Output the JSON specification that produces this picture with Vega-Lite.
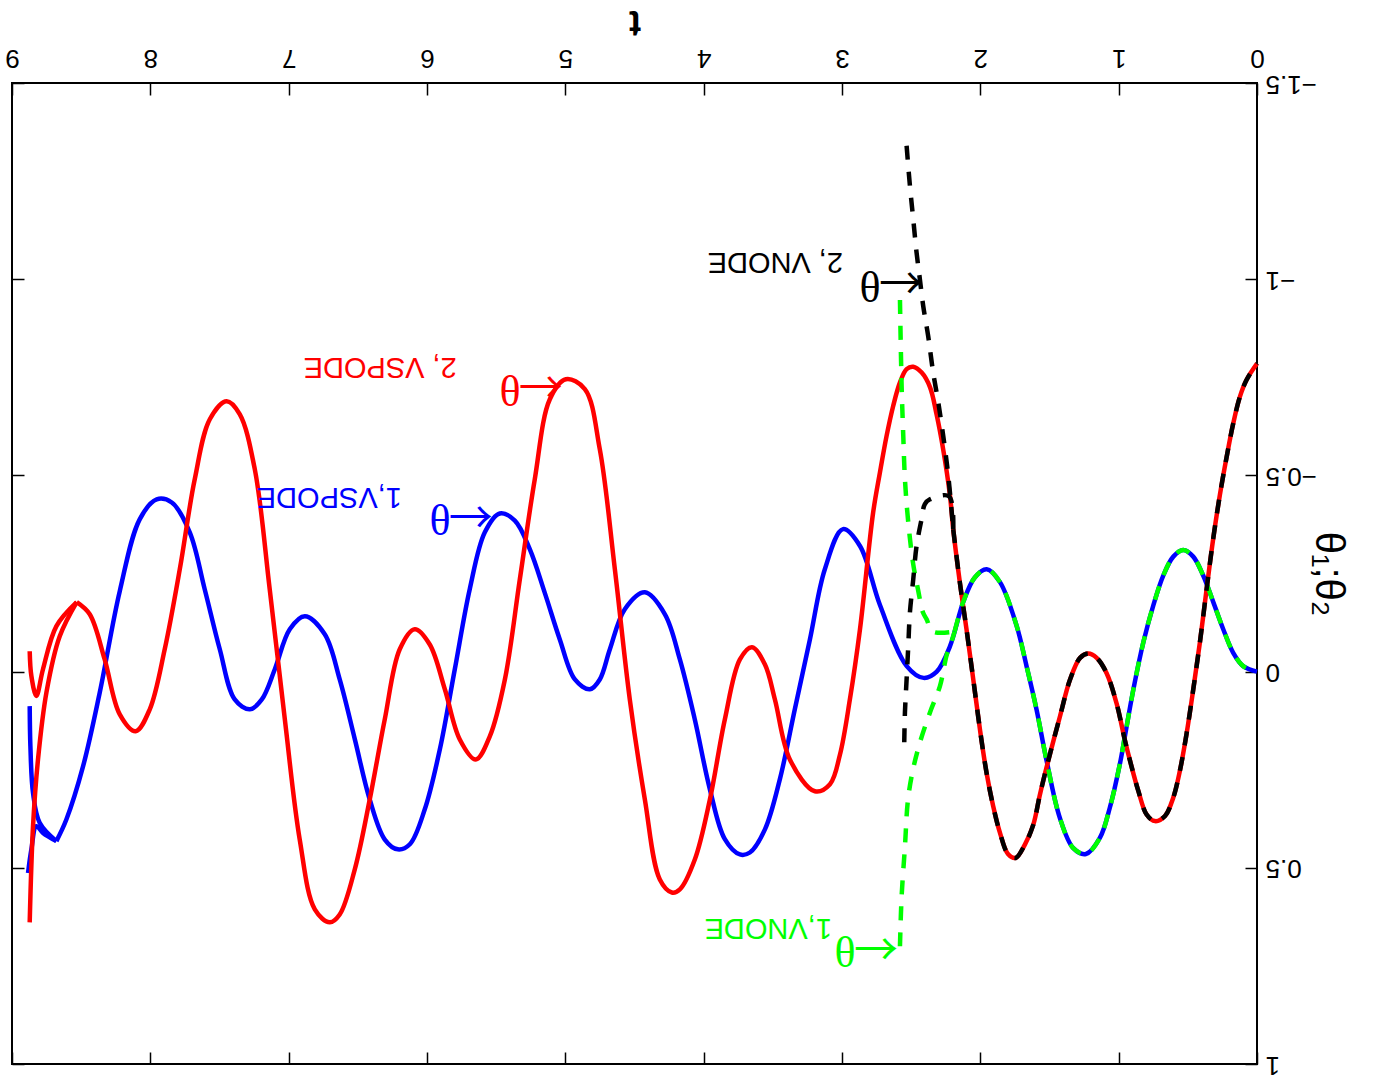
{
"$schema": "https://vega.github.io/schema/vega-lite/v6.json",
"width": 1245, "height": 981,
"autosize": {"type": "none"},
"padding": {"left": 12, "top": 83, "right": 116, "bottom": 14},
"background": "white",
"config": {
  "view": {"stroke": "black", "strokeWidth": 2},
  "font": "Liberation Sans",
  "axis": {"grid": false, "domain": false, "tickColor": "black", "tickWidth": 1.5, "labelColor": "black", "titleColor": "black", "labelFont": "Liberation Sans", "titleFont": "Liberation Sans", "labelFlush": false, "labelOverlap": false}
},
"datasets": {
"L": [
{"s":"b","b":"b0","t":0,"v":0},{"s":"b","b":"b0","t":0.1,"v":-0.014},{"s":"b","b":"b0","t":0.172,"v":-0.048},{"s":"b","b":"b0","t":0.244,"v":-0.108},{"s":"b","b":"b0","t":0.316,"v":-0.177},{"s":"b","b":"b0","t":0.389,"v":-0.245},{"s":"b","b":"b0","t":0.461,"v":-0.293},{"s":"b","b":"b0","t":0.533,"v":-0.31},{"s":"b","b":"b0","t":0.605,"v":-0.293},{"s":"b","b":"b0","t":0.677,"v":-0.245},{"s":"b","b":"b0","t":0.75,"v":-0.168},{"s":"b","b":"b0","t":0.822,"v":-0.074},{"s":"b","b":"b0","t":0.894,"v":0.046},{"s":"b","b":"b0","t":0.955,"v":0.165},{"s":"b","b":"b0","t":0.991,"v":0.235},{"s":"b","b":"b0","t":1.064,"v":0.347},{"s":"b","b":"b0","t":1.136,"v":0.424},{"s":"b","b":"b0","t":1.237,"v":0.465},{"s":"b","b":"b0","t":1.328,"v":0.45},{"s":"b","b":"b0","t":1.425,"v":0.373},{"s":"b","b":"b0","t":1.521,"v":0.227},{"s":"b","b":"b0","t":1.593,"v":0.098},{"s":"b","b":"b0","t":1.666,"v":-0.014},{"s":"b","b":"b0","t":1.738,"v":-0.117},{"s":"b","b":"b0","t":1.858,"v":-0.228},{"s":"b","b":"b0","t":1.954,"v":-0.261},{"s":"b","b":"b0","t":2.04,"v":-0.24},{"s":"b","b":"b0","t":2.123,"v":-0.178},{"s":"b","b":"b0","t":2.219,"v":-0.065},{"s":"b","b":"b0","t":2.315,"v":0.0},{"s":"b","b":"b0","t":2.41,"v":0.016},{"s":"b","b":"b0","t":2.532,"v":-0.014},{"s":"b","b":"b0","t":2.725,"v":-0.169},{"s":"b","b":"b0","t":2.87,"v":-0.32},{"s":"b","b":"b0","t":2.993,"v":-0.363},{"s":"b","b":"b0","t":3.124,"v":-0.261},{"s":"b","b":"b0","t":3.232,"v":-0.082},{"s":"b","b":"b0","t":3.341,"v":0.096},{"s":"b","b":"b0","t":3.449,"v":0.274},{"s":"b","b":"b0","t":3.557,"v":0.402},{"s":"b","b":"b0","t":3.666,"v":0.461},{"s":"b","b":"b0","t":3.738,"v":0.466},{"s":"b","b":"b0","t":3.847,"v":0.427},{"s":"b","b":"b0","t":3.955,"v":0.3},{"s":"b","b":"b0","t":4.064,"v":0.122},{"s":"b","b":"b0","t":4.172,"v":-0.031},{"s":"b","b":"b0","t":4.28,"v":-0.146},{"s":"b","b":"b0","t":4.425,"v":-0.202},{"s":"b","b":"b0","t":4.57,"v":-0.159},{"s":"b","b":"b0","t":4.678,"v":-0.057},{"s":"b","b":"b0","t":4.751,"v":0.02},{"s":"b","b":"b0","t":4.823,"v":0.045},{"s":"b","b":"b0","t":4.931,"v":0.02},{"s":"b","b":"b0","t":5.04,"v":-0.082},{"s":"b","b":"b0","t":5.148,"v":-0.2},{"s":"b","b":"b0","t":5.257,"v":-0.312},{"s":"b","b":"b0","t":5.365,"v":-0.385},{"s":"b","b":"b0","t":5.474,"v":-0.403},{"s":"b","b":"b0","t":5.582,"v":-0.355},{"s":"b","b":"b0","t":5.691,"v":-0.21},{"s":"b","b":"b0","t":5.799,"v":-0.006},{"s":"b","b":"b0","t":5.907,"v":0.198},{"s":"b","b":"b0","t":6.016,"v":0.351},{"s":"b","b":"b0","t":6.124,"v":0.44},{"s":"b","b":"b0","t":6.211,"v":0.453},{"s":"b","b":"b0","t":6.305,"v":0.428},{"s":"b","b":"b0","t":6.414,"v":0.326},{"s":"b","b":"b0","t":6.522,"v":0.172},{"s":"b","b":"b0","t":6.631,"v":0.02},{"s":"b","b":"b0","t":6.739,"v":-0.095},{"s":"b","b":"b0","t":6.883,"v":-0.141},{"s":"b","b":"b0","t":6.992,"v":-0.108},{"s":"b","b":"b0","t":7.1,"v":-0.006},{"s":"b","b":"b0","t":7.194,"v":0.071},{"s":"b","b":"b0","t":7.281,"v":0.096},{"s":"b","b":"b0","t":7.39,"v":0.071},{"s":"b","b":"b0","t":7.498,"v":-0.057},{"s":"b","b":"b0","t":7.607,"v":-0.21},{"s":"b","b":"b0","t":7.715,"v":-0.355},{"s":"b","b":"b0","t":7.845,"v":-0.431},{"s":"b","b":"b0","t":7.954,"v":-0.439},{"s":"b","b":"b0","t":8.077,"v":-0.388},{"s":"b","b":"b0","t":8.221,"v":-0.205},{"s":"b","b":"b0","t":8.366,"v":0.054},{"s":"b","b":"b0","t":8.486,"v":0.241},{"s":"b","b":"b0","t":8.607,"v":0.377},{"s":"b","b":"b0","t":8.679,"v":0.432},
{"s":"b","b":"bU","t":8.679,"v":0.432},{"s":"b","b":"bU","t":8.8,"v":0.385},{"s":"b","b":"bU","t":8.848,"v":0.309},{"s":"b","b":"bU","t":8.867,"v":0.19},{"s":"b","b":"bU","t":8.872,"v":0.088},
{"s":"b","b":"bL","t":8.679,"v":0.432},{"s":"b","b":"bL","t":8.776,"v":0.411},{"s":"b","b":"bL","t":8.824,"v":0.394},{"s":"b","b":"bL","t":8.86,"v":0.453},{"s":"b","b":"bL","t":8.884,"v":0.513},
{"s":"r","b":"r0","t":0,"v":-0.785},{"s":"r","b":"r0","t":0.076,"v":-0.743},{"s":"r","b":"r0","t":0.124,"v":-0.7},{"s":"r","b":"r0","t":0.172,"v":-0.632},{"s":"r","b":"r0","t":0.22,"v":-0.546},{"s":"r","b":"r0","t":0.268,"v":-0.451},{"s":"r","b":"r0","t":0.316,"v":-0.34},{"s":"r","b":"r0","t":0.364,"v":-0.211},{"s":"r","b":"r0","t":0.413,"v":-0.074},{"s":"r","b":"r0","t":0.461,"v":0.046},{"s":"r","b":"r0","t":0.509,"v":0.158},{"s":"r","b":"r0","t":0.557,"v":0.252},{"s":"r","b":"r0","t":0.605,"v":0.321},{"s":"r","b":"r0","t":0.665,"v":0.368},{"s":"r","b":"r0","t":0.737,"v":0.381},{"s":"r","b":"r0","t":0.798,"v":0.364},{"s":"r","b":"r0","t":0.858,"v":0.304},{"s":"r","b":"r0","t":0.918,"v":0.227},{"s":"r","b":"r0","t":0.955,"v":0.175},{"s":"r","b":"r0","t":1.015,"v":0.081},{"s":"r","b":"r0","t":1.087,"v":0.004},{"s":"r","b":"r0","t":1.159,"v":-0.035},{"s":"r","b":"r0","t":1.219,"v":-0.046},{"s":"r","b":"r0","t":1.279,"v":-0.035},{"s":"r","b":"r0","t":1.352,"v":0.021},{"s":"r","b":"r0","t":1.425,"v":0.115},{"s":"r","b":"r0","t":1.509,"v":0.227},{"s":"r","b":"r0","t":1.569,"v":0.313},{"s":"r","b":"r0","t":1.617,"v":0.39},{"s":"r","b":"r0","t":1.678,"v":0.441},{"s":"r","b":"r0","t":1.745,"v":0.475},{"s":"r","b":"r0","t":1.8,"v":0.465},{"s":"r","b":"r0","t":1.858,"v":0.411},{"s":"r","b":"r0","t":1.907,"v":0.343},{"s":"r","b":"r0","t":1.955,"v":0.258},{"s":"r","b":"r0","t":2.003,"v":0.147},{"s":"r","b":"r0","t":2.051,"v":0.02},{"s":"r","b":"r0","t":2.1,"v":-0.108},{"s":"r","b":"r0","t":2.148,"v":-0.227},{"s":"r","b":"r0","t":2.196,"v":-0.363},{"s":"r","b":"r0","t":2.22,"v":-0.45},{"s":"r","b":"r0","t":2.268,"v":-0.565},{"s":"r","b":"r0","t":2.316,"v":-0.655},{"s":"r","b":"r0","t":2.364,"v":-0.725},{"s":"r","b":"r0","t":2.424,"v":-0.762},{"s":"r","b":"r0","t":2.485,"v":-0.777},{"s":"r","b":"r0","t":2.533,"v":-0.771},{"s":"r","b":"r0","t":2.581,"v":-0.737},{"s":"r","b":"r0","t":2.63,"v":-0.677},{"s":"r","b":"r0","t":2.678,"v":-0.6},{"s":"r","b":"r0","t":2.726,"v":-0.507},{"s":"r","b":"r0","t":2.775,"v":-0.405},{"s":"r","b":"r0","t":2.87,"v":-0.108},{"s":"r","b":"r0","t":2.943,"v":0.071},{"s":"r","b":"r0","t":3.015,"v":0.212},{"s":"r","b":"r0","t":3.087,"v":0.287},{"s":"r","b":"r0","t":3.196,"v":0.305},{"s":"r","b":"r0","t":3.377,"v":0.224},{"s":"r","b":"r0","t":3.485,"v":0.071},{"s":"r","b":"r0","t":3.557,"v":-0.018},{"s":"r","b":"r0","t":3.651,"v":-0.062},{"s":"r","b":"r0","t":3.738,"v":-0.031},{"s":"r","b":"r0","t":3.847,"v":0.122},{"s":"r","b":"r0","t":3.955,"v":0.326},{"s":"r","b":"r0","t":4.064,"v":0.479},{"s":"r","b":"r0","t":4.172,"v":0.555},{"s":"r","b":"r0","t":4.23,"v":0.563},{"s":"r","b":"r0","t":4.317,"v":0.53},{"s":"r","b":"r0","t":4.425,"v":0.326},{"s":"r","b":"r0","t":4.534,"v":0.071},{"s":"r","b":"r0","t":4.642,"v":-0.261},{"s":"r","b":"r0","t":4.751,"v":-0.567},{"s":"r","b":"r0","t":4.859,"v":-0.72},{"s":"r","b":"r0","t":4.996,"v":-0.745},{"s":"r","b":"r0","t":5.112,"v":-0.694},{"s":"r","b":"r0","t":5.221,"v":-0.49},{"s":"r","b":"r0","t":5.329,"v":-0.235},{"s":"r","b":"r0","t":5.437,"v":0.02},{"s":"r","b":"r0","t":5.546,"v":0.165},{"s":"r","b":"r0","t":5.647,"v":0.224},{"s":"r","b":"r0","t":5.763,"v":0.173},{"s":"r","b":"r0","t":5.871,"v":0.045},{"s":"r","b":"r0","t":5.98,"v":-0.069},{"s":"r","b":"r0","t":6.088,"v":-0.108},{"s":"r","b":"r0","t":6.197,"v":-0.057},{"s":"r","b":"r0","t":6.305,"v":0.121},{"s":"r","b":"r0","t":6.414,"v":0.326},{"s":"r","b":"r0","t":6.522,"v":0.504},{"s":"r","b":"r0","t":6.631,"v":0.619},{"s":"r","b":"r0","t":6.703,"v":0.639},{"s":"r","b":"r0","t":6.811,"v":0.606},{"s":"r","b":"r0","t":6.92,"v":0.428},{"s":"r","b":"r0","t":7.028,"v":0.121},{"s":"r","b":"r0","t":7.137,"v":-0.21},{"s":"r","b":"r0","t":7.245,"v":-0.516},{"s":"r","b":"r0","t":7.354,"v":-0.656},{"s":"r","b":"r0","t":7.448,"v":-0.689},{"s":"r","b":"r0","t":7.57,"v":-0.643},{"s":"r","b":"r0","t":7.679,"v":-0.49},{"s":"r","b":"r0","t":7.787,"v":-0.261},{"s":"r","b":"r0","t":7.896,"v":-0.057},{"s":"r","b":"r0","t":8.004,"v":0.096},{"s":"r","b":"r0","t":8.106,"v":0.152},{"s":"r","b":"r0","t":8.221,"v":0.109},{"s":"r","b":"r0","t":8.33,"v":-0.031},{"s":"r","b":"r0","t":8.438,"v":-0.146},{"s":"r","b":"r0","t":8.532,"v":-0.177},
{"s":"r","b":"rA","t":8.532,"v":-0.177},{"s":"r","b":"rA","t":8.679,"v":-0.116},{"s":"r","b":"rA","t":8.776,"v":-0.006},{"s":"r","b":"rA","t":8.824,"v":0.062},{"s":"r","b":"rA","t":8.86,"v":0.011},{"s":"r","b":"rA","t":8.872,"v":-0.052},
{"s":"r","b":"rB","t":8.532,"v":-0.177},{"s":"r","b":"rB","t":8.655,"v":-0.09},{"s":"r","b":"rB","t":8.751,"v":0.053},{"s":"r","b":"rB","t":8.812,"v":0.224},{"s":"r","b":"rB","t":8.848,"v":0.394},{"s":"r","b":"rB","t":8.872,"v":0.639},
{"s":"g","b":"g0","t":0,"v":0},{"s":"g","b":"g0","t":0.1,"v":-0.014},{"s":"g","b":"g0","t":0.172,"v":-0.048},{"s":"g","b":"g0","t":0.244,"v":-0.108},{"s":"g","b":"g0","t":0.316,"v":-0.177},{"s":"g","b":"g0","t":0.389,"v":-0.245},{"s":"g","b":"g0","t":0.461,"v":-0.293},{"s":"g","b":"g0","t":0.533,"v":-0.31},{"s":"g","b":"g0","t":0.605,"v":-0.293},{"s":"g","b":"g0","t":0.677,"v":-0.245},{"s":"g","b":"g0","t":0.75,"v":-0.168},{"s":"g","b":"g0","t":0.822,"v":-0.074},{"s":"g","b":"g0","t":0.894,"v":0.046},{"s":"g","b":"g0","t":0.955,"v":0.165},{"s":"g","b":"g0","t":0.991,"v":0.235},{"s":"g","b":"g0","t":1.064,"v":0.347},{"s":"g","b":"g0","t":1.136,"v":0.424},{"s":"g","b":"g0","t":1.237,"v":0.465},{"s":"g","b":"g0","t":1.328,"v":0.45},{"s":"g","b":"g0","t":1.425,"v":0.373},{"s":"g","b":"g0","t":1.521,"v":0.227},{"s":"g","b":"g0","t":1.593,"v":0.098},{"s":"g","b":"g0","t":1.666,"v":-0.014},{"s":"g","b":"g0","t":1.738,"v":-0.117},{"s":"g","b":"g0","t":1.858,"v":-0.228},{"s":"g","b":"g0","t":1.954,"v":-0.261},{"s":"g","b":"g0","t":2.04,"v":-0.24},{"s":"g","b":"g0","t":2.123,"v":-0.178},{"s":"g","b":"g0","t":2.186,"v":-0.102},
{"s":"g","b":"gU","t":2.186,"v":-0.102},{"s":"g","b":"gU","t":2.343,"v":-0.102},{"s":"g","b":"gU","t":2.388,"v":-0.133},{"s":"g","b":"gU","t":2.415,"v":-0.151},{"s":"g","b":"gU","t":2.451,"v":-0.21},{"s":"g","b":"gU","t":2.487,"v":-0.278},{"s":"g","b":"gU","t":2.523,"v":-0.388},{"s":"g","b":"gU","t":2.545,"v":-0.49},{"s":"g","b":"gU","t":2.557,"v":-0.6},{"s":"g","b":"gU","t":2.569,"v":-0.728},{"s":"g","b":"gU","t":2.581,"v":-0.947},
{"s":"g","b":"gL","t":2.186,"v":-0.102},{"s":"g","b":"gL","t":2.219,"v":-0.065},{"s":"g","b":"gL","t":2.242,"v":-0.044},{"s":"g","b":"gL","t":2.292,"v":0.037},{"s":"g","b":"gL","t":2.364,"v":0.104},{"s":"g","b":"gL","t":2.437,"v":0.181},{"s":"g","b":"gL","t":2.487,"v":0.25},{"s":"g","b":"gL","t":2.523,"v":0.326},{"s":"g","b":"gL","t":2.545,"v":0.446},{"s":"g","b":"gL","t":2.569,"v":0.573},{"s":"g","b":"gL","t":2.581,"v":0.7},
{"s":"k","b":"k0","t":0,"v":-0.785},{"s":"k","b":"k0","t":0.076,"v":-0.743},{"s":"k","b":"k0","t":0.124,"v":-0.7},{"s":"k","b":"k0","t":0.172,"v":-0.632},{"s":"k","b":"k0","t":0.22,"v":-0.546},{"s":"k","b":"k0","t":0.268,"v":-0.451},{"s":"k","b":"k0","t":0.316,"v":-0.34},{"s":"k","b":"k0","t":0.364,"v":-0.211},{"s":"k","b":"k0","t":0.413,"v":-0.074},{"s":"k","b":"k0","t":0.461,"v":0.046},{"s":"k","b":"k0","t":0.509,"v":0.158},{"s":"k","b":"k0","t":0.557,"v":0.252},{"s":"k","b":"k0","t":0.605,"v":0.321},{"s":"k","b":"k0","t":0.665,"v":0.368},{"s":"k","b":"k0","t":0.737,"v":0.381},{"s":"k","b":"k0","t":0.798,"v":0.364},{"s":"k","b":"k0","t":0.858,"v":0.304},{"s":"k","b":"k0","t":0.918,"v":0.227},{"s":"k","b":"k0","t":0.955,"v":0.175},{"s":"k","b":"k0","t":1.015,"v":0.081},{"s":"k","b":"k0","t":1.087,"v":0.004},{"s":"k","b":"k0","t":1.159,"v":-0.035},{"s":"k","b":"k0","t":1.219,"v":-0.046},{"s":"k","b":"k0","t":1.279,"v":-0.035},{"s":"k","b":"k0","t":1.352,"v":0.021},{"s":"k","b":"k0","t":1.425,"v":0.115},{"s":"k","b":"k0","t":1.509,"v":0.227},{"s":"k","b":"k0","t":1.569,"v":0.313},{"s":"k","b":"k0","t":1.617,"v":0.39},{"s":"k","b":"k0","t":1.678,"v":0.441},{"s":"k","b":"k0","t":1.745,"v":0.475},{"s":"k","b":"k0","t":1.8,"v":0.465},{"s":"k","b":"k0","t":1.858,"v":0.411},{"s":"k","b":"k0","t":1.907,"v":0.343},{"s":"k","b":"k0","t":1.955,"v":0.258},{"s":"k","b":"k0","t":2.003,"v":0.147},{"s":"k","b":"k0","t":2.051,"v":0.02},{"s":"k","b":"k0","t":2.1,"v":-0.108},{"s":"k","b":"k0","t":2.148,"v":-0.227},{"s":"k","b":"k0","t":2.196,"v":-0.363},
{"s":"k","b":"kU","t":2.196,"v":-0.363},{"s":"k","b":"kU","t":2.232,"v":-0.5},{"s":"k","b":"kU","t":2.268,"v":-0.6},{"s":"k","b":"kU","t":2.304,"v":-0.686},{"s":"k","b":"kU","t":2.341,"v":-0.762},{"s":"k","b":"kU","t":2.377,"v":-0.855},{"s":"k","b":"kU","t":2.413,"v":-0.932},{"s":"k","b":"kU","t":2.437,"v":-1.0},{"s":"k","b":"kU","t":2.461,"v":-1.068},{"s":"k","b":"kU","t":2.485,"v":-1.153},{"s":"k","b":"kU","t":2.509,"v":-1.238},{"s":"k","b":"kU","t":2.533,"v":-1.34},
{"s":"k","b":"kL","t":2.196,"v":-0.363},{"s":"k","b":"kL","t":2.227,"v":-0.447},{"s":"k","b":"kL","t":2.364,"v":-0.439},{"s":"k","b":"kL","t":2.401,"v":-0.427},{"s":"k","b":"kL","t":2.425,"v":-0.388},{"s":"k","b":"kL","t":2.461,"v":-0.32},{"s":"k","b":"kL","t":2.485,"v":-0.235},{"s":"k","b":"kL","t":2.509,"v":-0.151},{"s":"k","b":"kL","t":2.521,"v":-0.065},{"s":"k","b":"kL","t":2.533,"v":0.02},{"s":"k","b":"kL","t":2.545,"v":0.104},{"s":"k","b":"kL","t":2.55,"v":0.18}
],
"A": [
{"s":"k","k":"ar","t":2.415,"v":-1.001,"txt":"←"},
{"s":"r","k":"ar","t":5.018,"v":-0.736,"txt":"←"},
{"s":"b","k":"ar","t":5.524,"v":-0.405,"txt":"←"},
{"s":"g","k":"ar","t":2.596,"v":0.697,"txt":"←"},
{"s":"k","k":"th","t":2.719,"v":-0.987,"txt":"θ"},
{"s":"r","k":"th","t":5.322,"v":-0.724,"txt":"θ"},
{"s":"b","k":"th","t":5.828,"v":-0.395,"txt":"θ"},
{"s":"g","k":"th","t":2.9,"v":0.706,"txt":"θ"},
{"s":"k","k":"sub","t":2.993,"v":-1.043,"txt":"2, VNODE"},
{"s":"r","k":"sub","t":5.785,"v":-0.775,"txt":"2, VSPODE"},
{"s":"b","k":"sub","t":6.182,"v":-0.444,"txt":"1,VSPODE"},
{"s":"g","k":"sub","t":3.073,"v":0.653,"txt":"1,VNODE"}
]
},
"layer": [
{
  "data": {"name": "L"},
  "transform": [{"filter": "datum.s == 'b' || datum.s == 'r'"}],
  "mark": {"type": "line", "strokeWidth": 4.5, "interpolate": "catmull-rom", "strokeJoin": "round"},
  "encoding": {
    "x": {"field": "t", "type": "quantitative", "scale": {"domain": [0, 9], "reverse": true, "nice": false, "zero": false},
      "axis": {"orient": "top", "values": [0,1,2,3,4,5,6,7,8,9], "labelAngle": 180, "labelAlign": "center", "labelBaseline": "top", "labelFontSize": 26, "labelPadding": 25, "tickSize": -12, "title": "t", "titleAngle": 180, "titleBaseline": "top", "titleFontSize": 36, "titleFontWeight": "bold", "titlePadding": 6}},
    "y": {"field": "v", "type": "quantitative", "scale": {"domain": [-1.5, 1], "reverse": true, "nice": false, "zero": false},
      "axis": {"orient": "right", "values": [-1.5,-1,-0.5,0,0.5,1], "format": ".2~f", "labelAngle": 180, "labelAlign": "right", "labelBaseline": "middle", "labelFontSize": 26, "labelPadding": 20, "tickSize": -12, "title": "θ₁;θ₂", "titleAngle": 90, "titleBaseline": "bottom", "titleFontSize": 40, "titleFontWeight": "normal", "titlePadding": -9}},
    "color": {"field": "s", "type": "nominal", "scale": {"domain": ["b","r","g","k"], "range": ["#0000ff","#ff0000","#00ff00","#000000"]}, "legend": null},
    "detail": {"field": "b"}
  }
},
{
  "data": {"name": "L"},
  "transform": [{"filter": "datum.s == 'g' || datum.s == 'k'"}],
  "mark": {"type": "line", "strokeWidth": 4.5, "strokeDash": [14, 12], "interpolate": "catmull-rom", "strokeJoin": "round"},
  "encoding": {
    "x": {"field": "t", "type": "quantitative", "scale": {"domain": [0, 9], "reverse": true, "nice": false, "zero": false},
      "axis": {"orient": "bottom", "values": [0,1,2,3,4,5,6,7,8,9], "labels": false, "tickSize": -12, "title": null}},
    "y": {"field": "v", "type": "quantitative", "scale": {"domain": [-1.5, 1], "reverse": true, "nice": false, "zero": false},
      "axis": {"orient": "left", "values": [-1.5,-1,-0.5,0,0.5,1], "labels": false, "tickSize": -12, "title": null}},
    "color": {"field": "s", "type": "nominal", "scale": {"domain": ["b","r","g","k"], "range": ["#0000ff","#ff0000","#00ff00","#000000"]}, "legend": null},
    "detail": {"field": "b"}
  }
},
{
  "data": {"name": "A"},
  "transform": [{"filter": "datum.k == 'ar'"}],
  "mark": {"type": "text", "angle": 180, "align": "left", "baseline": "middle", "font": "Noto Sans CJK JP", "fontSize": 44},
  "encoding": {
    "x": {"field": "t", "type": "quantitative", "axis": null},
    "y": {"field": "v", "type": "quantitative", "axis": null},
    "text": {"field": "txt"},
    "color": {"field": "s", "type": "nominal", "legend": null}
  }
},
{
  "data": {"name": "A"},
  "transform": [{"filter": "datum.k == 'th'"}],
  "mark": {"type": "text", "angle": 180, "align": "left", "baseline": "middle", "font": "Liberation Serif", "fontSize": 44},
  "encoding": {
    "x": {"field": "t", "type": "quantitative", "axis": null},
    "y": {"field": "v", "type": "quantitative", "axis": null},
    "text": {"field": "txt"},
    "color": {"field": "s", "type": "nominal", "legend": null}
  }
},
{
  "data": {"name": "A"},
  "transform": [{"filter": "datum.k == 'sub'"}],
  "mark": {"type": "text", "angle": 180, "align": "left", "baseline": "middle", "font": "Liberation Sans", "fontSize": 29},
  "encoding": {
    "x": {"field": "t", "type": "quantitative", "axis": null},
    "y": {"field": "v", "type": "quantitative", "axis": null},
    "text": {"field": "txt"},
    "color": {"field": "s", "type": "nominal", "legend": null}
  }
}
],
"resolve": {"axis": {"x": "independent", "y": "independent"}}
}
